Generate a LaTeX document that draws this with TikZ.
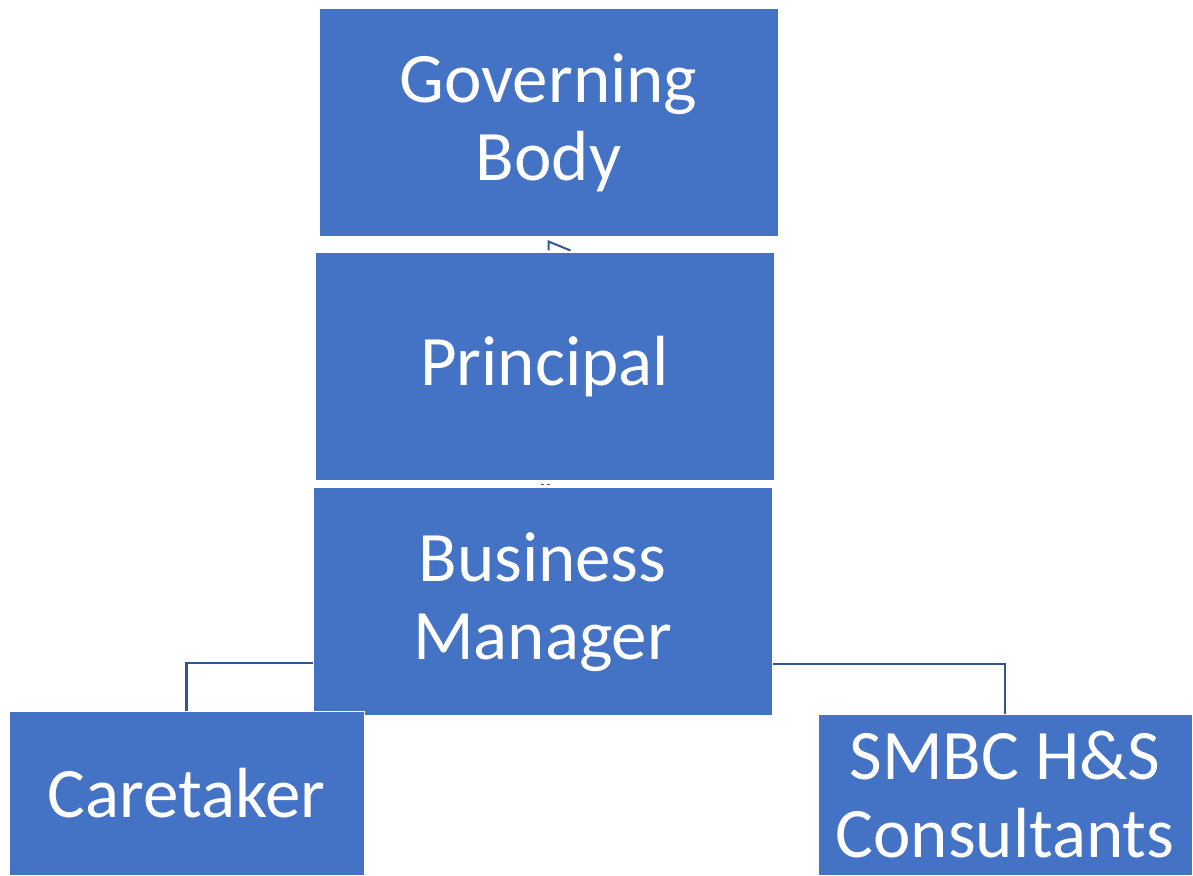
\documentclass[tikz,border=0pt]{standalone}
\usepackage{fontspec}
\setmainfont{Carlito}
\definecolor{boxblue}{HTML}{4472C4}
\definecolor{lineblue}{HTML}{2F5597}
\begin{document}
\begin{tikzpicture}[x=1pt, y=1pt,
        box/.style={draw=white, line width=1pt, fill=boxblue, text=white, align=center,
            inner sep=0pt, font=\fontsize{71}{78}\selectfont},
        conn/.style={draw=lineblue, line width=2.5pt}]
    \useasboundingbox (0, 0) rectangle (1193, 875);
    \begin{scope}
        \clip (0, 0) rectangle (1193, 875);
        \node (gb) at (548.5, 752) [box, minimum width=459, minimum height=228] {Governing\\Body};
        \node (pr) at (544.5, 508) [box, minimum width=459, minimum height=228] {Principal};
        \node (bm) at (542.5, 273) [box, minimum width=459, minimum height=228] {Business\\Manager};
        \node (ct) at (186.5, 81.5) [box, minimum width=355, minimum height=163] {Caretaker};
        \node (hs) at (1005, 80) [box, minimum width=374, minimum height=160] {SMBC H\&S\\Consultants};
    \end{scope}
    % bits of the links that show between the stacked boxes
    \draw[conn, line width=2pt] ([xshift=22, yshift=-13]gb.south) -- ([yshift=-4]gb.south) -- ([yshift=-13]gb.south);
    \draw[conn, line width=1.5pt, dash pattern=on 3pt off 3pt] ([xshift=-3.5, yshift=-3]pr.south) -- ++(9, 0);
    % links down to the two sides
    \draw[conn] (bm.west |- 0, 212) -| (ct.north);
    \draw[conn] (bm.east |- 0, 211) -| (hs.north);
\end{tikzpicture}
\end{document}
